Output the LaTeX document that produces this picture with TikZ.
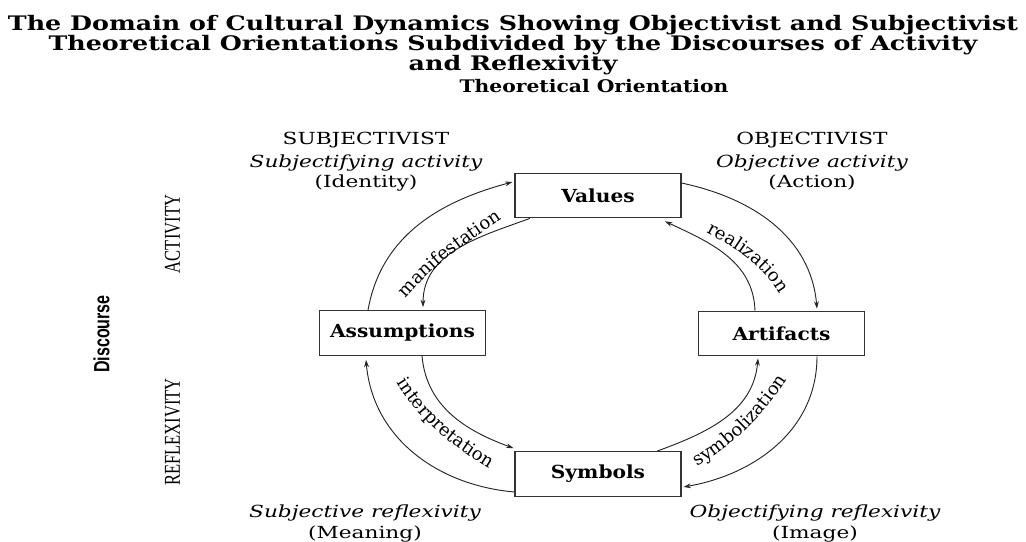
\documentclass[tikz,border=0pt]{standalone}
\usepackage{fontspec}
\setmainfont{DejaVu Serif}
\newfontfamily\condserif{Liberation Serif}
\newfontfamily\lsans{Liberation Sans}
\usetikzlibrary{arrows.meta,calc,decorations.text}
\newcommand\widetext[2]{\scalebox{#1}[1]{#2}}

\begin{document}
\begin{tikzpicture}[x=0.75pt,y=0.75pt,
  box/.style={draw=black!80, line width=0.8pt, fill=white, minimum width=124.5pt,
              minimum height=33.5pt, inner sep=0pt, font=\fontsize{13.5}{16}\selectfont\bfseries},
  flow/.style={draw=black!85, line width=0.7pt, -{Stealth[length=5.5pt,width=3.6pt]}},
  ttl/.style={anchor=base, inner sep=0pt, font=\fontsize{15}{17}\selectfont\bfseries},
  orient/.style={anchor=base, inner sep=0pt, font=\fontsize{12.5}{15}\selectfont},
  orientit/.style={anchor=base, inner sep=0pt, font=\fontsize{12.5}{15}\selectfont\itshape},
  disc/.style={rotate=90, inner sep=0pt},
  arclbl/.style={decorate, decoration={text along path, text align=center}}
]
\useasboundingbox (0,0) rectangle (1026,-542);
\fill[white] (0,0) rectangle (1026,-542);

% title
\node[ttl] (t1) at (513,-31) {\widetext{1.267}{The Domain of Cultural Dynamics Showing Objectivist and Subjectivist}};
\node[ttl] (t2) at (513,-51) {\widetext{1.267}{Theoretical Orientations Subdivided by the Discourses of Activity}};
\node[ttl] (t3) at (513,-71) {\widetext{1.267}{and Reflexivity}};
\node[anchor=base, inner sep=0pt, font=\fontsize{13}{15}\selectfont\bfseries] (to) at (594,-93) {\widetext{1.17}{Theoretical Orientation}};

% orientation labels
\node[orient]   (sub1) at (366,-145) {\widetext{1.3}{SUBJECTIVIST}};
\node[orientit] (sub2) at (366,-167) {\widetext{1.3}{Subjectifying activity}};
\node[orient]   (sub3) at (366,-188) {\widetext{1.3}{(Identity)}};
\node[orient]   (obj1) at (812,-145) {\widetext{1.3}{OBJECTIVIST}};
\node[orientit] (obj2) at (812,-167) {\widetext{1.3}{Objective activity}};
\node[orient]   (obj3) at (812,-188) {\widetext{1.3}{(Action)}};
\node[orientit] (sr1) at (365,-517) {\widetext{1.3}{Subjective reflexivity}};
\node[orient]   (sr2) at (365,-538) {\widetext{1.3}{(Meaning)}};
\node[orientit] (or1) at (815,-517) {\widetext{1.3}{Objectifying reflexivity}};
\node[orient]   (or2) at (815,-538) {\widetext{1.3}{(Image)}};

% discourse labels
\node[disc] (act) at (172.5,-234) {\fontsize{17}{19}\condserif\selectfont\scalebox{0.73}[1]{ACTIVITY}};
\node[disc] (ref) at (172.5,-432) {\fontsize{17}{19}\condserif\selectfont\scalebox{0.73}[1]{REFLEXIVITY}};
\node[disc] (dis) at (101.5,-334) {\fontsize{16.5}{18}\lsans\bfseries\selectfont\scalebox{0.73}[1]{Discourse}};

% boxes
\node[box] (V) at (598,-195.5) {\widetext{1.12}{Values}};
\node[box] (A) at (402.5,-333) {\widetext{1.12}{Assumptions}};
\node[box] (R) at (781.5,-333.5) {\widetext{1.12}{Artifacts}};
\node[box] (S) at (598,-474) {\widetext{1.12}{Symbols}};

% connectors
\draw[flow] ($(A.north)+(-34.5,0)$) to[out=80,in=195] ($(V.west)+(-2,13.5)$);
\draw[flow] ($(V.south)+(-68,0)$) to[out=200,in=90] ($(A.north)+(20.5,3)$);
\draw[flow] ($(V.east)+(0,12.5)$) to[out=-12,in=95] ($(R.north)+(35.5,2)$);
\draw[flow] ($(R.north)+(-26.5,0)$) to[out=92,in=-25] ($(V.south)+(67,-3)$);
\draw[flow] ($(S.west)+(0,-18)$) to[out=175,in=-85] ($(A.south)+(-36.5,-4)$);
\draw[flow] ($(A.south)+(19.5,0)$) to[out=-85,in=160] ($(S.north west)+(-1,3)$);
\draw[flow] ($(S.north)+(59,0)$) to[out=20,in=-95] ($(R.south)+(-23.5,-2)$);
\draw[flow] ($(R.south)+(35.5,0)$) to[out=-90,in=10] ($(S.east)+(2,-13)$);

% arc labels
\coordinate (m1) at (385,-325); \coordinate (m2) at (530,-200);
\coordinate (r1) at (672,-216); \coordinate (r2) at (794,-329);
\coordinate (i1) at (384,-360); \coordinate (i2) at (512,-482);
\coordinate (s1) at (676,-480); \coordinate (s2) at (800,-358);
\path[arclbl, decoration={text={|\fontsize{13.5}{15}\selectfont|manifestation}}] (m1) to[out=55,in=215] (m2);
\path[arclbl, decoration={text={|\fontsize{13.5}{15}\selectfont|realization}}] (r1) to[out=-25,in=105] (r2);
\path[arclbl, decoration={text={|\fontsize{13.5}{15}\selectfont|interpretation}}] (i1) to[out=-63,in=150] (i2);
\path[arclbl, decoration={text={|\fontsize{13.5}{15}\selectfont|symbolization}}] (s1) to[out=30,in=-120] (s2);
\end{tikzpicture}
\end{document}
